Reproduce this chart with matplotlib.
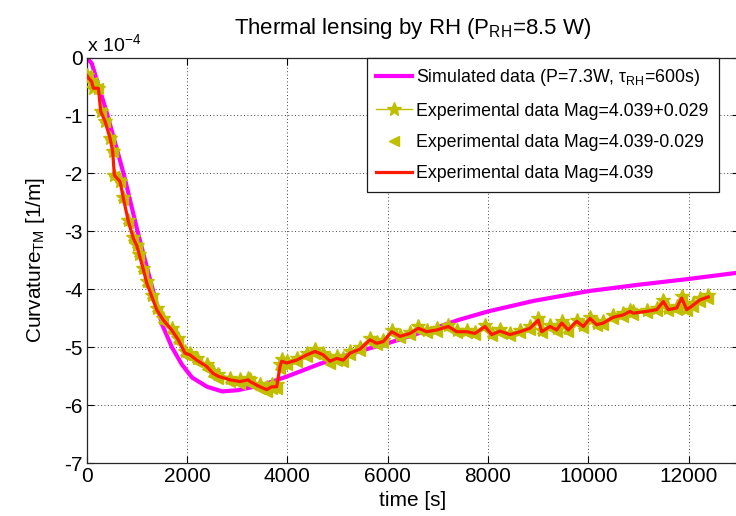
import matplotlib
matplotlib.use("Agg")
import matplotlib.pyplot as plt
from matplotlib.lines import Line2D

plt.rcParams['font.family'] = ['Liberation Sans', 'DejaVu Sans']
plt.rcParams['mathtext.fontset'] = 'custom'
plt.rcParams['mathtext.rm'] = 'Liberation Sans'
plt.rcParams['mathtext.it'] = 'Liberation Sans:italic'
plt.rcParams['axes.unicode_minus'] = False

# ---- data (curvature in units of 1e-4 1/m) ----
sim_t = [0, 100, 400, 750, 1000, 1200, 1500, 1700, 1900, 2100, 2400, 2700, 3000,
         3500, 4000, 4660, 5500, 6000, 7000, 7400, 8000, 8900, 10000, 11000, 12000, 13000]
sim_y = [0.0, -0.1, -0.95, -2.05, -2.95, -3.62, -4.6, -5.0, -5.3, -5.52, -5.68, -5.76, -5.74,
         -5.65, -5.5, -5.28, -5.05, -4.93, -4.65, -4.53, -4.38, -4.2, -4.03, -3.92, -3.82, -3.71]

exp_t = [0, 100, 133, 233, 280, 365, 465, 518, 551, 665,
         731, 831, 930, 1000, 1050, 1130, 1197, 1296, 1396, 1527,
         1694, 1826, 1960, 2060, 2192, 2392, 2520, 2623, 2856, 3056,
         3221, 3255, 3454, 3588, 3687, 3787, 3853, 3887, 3987, 4186,
         4385, 4551, 4716, 4850, 4983, 5115, 5248, 5448, 5647, 5780,
         5912, 6079, 6245, 6444, 6610, 6777, 6976, 7208, 7375, 7574,
         7740, 7939, 8072, 8238, 8437, 8637, 8836, 9002, 9069, 9235,
         9368, 9468, 9600, 9767, 9899, 10032, 10165, 10298, 10497, 10697,
         10829, 10895, 11161, 11361, 11494, 11594, 11760, 11860, 11960, 12092,
         12225, 12390]

exp_mag = [-0.31, -0.42, -0.53, -0.53, -0.93, -1.10, -1.39, -1.62, -2.03, -2.14,
           -2.43, -2.83, -3.12, -3.25, -3.41, -3.66, -3.89, -4.12, -4.35, -4.53,
           -4.70, -4.87, -5.10, -5.13, -5.22, -5.33, -5.45, -5.50, -5.56, -5.59,
           -5.56, -5.59, -5.68, -5.73, -5.68, -5.68, -5.33, -5.24, -5.27, -5.22,
           -5.13, -5.07, -5.13, -5.24, -5.19, -5.22, -5.10, -5.03, -4.87, -4.93,
           -4.90, -4.73, -4.81, -4.76, -4.67, -4.73, -4.70, -4.64, -4.73, -4.73,
           -4.76, -4.64, -4.78, -4.72, -4.78, -4.73, -4.67, -4.53, -4.73, -4.64,
           -4.70, -4.58, -4.70, -4.55, -4.64, -4.50, -4.61, -4.58, -4.48, -4.44,
           -4.38, -4.41, -4.38, -4.35, -4.21, -4.35, -4.32, -4.15, -4.35, -4.27,
           -4.18, -4.13]

exp_plus = [-0.31, -0.42, -0.53, -0.53, -0.92, -1.09, -1.38, -1.61, -2.02, -2.13,
            -2.41, -2.81, -3.10, -3.23, -3.39, -3.63, -3.86, -4.09, -4.32, -4.50,
            -4.67, -4.84, -5.06, -5.09, -5.18, -5.29, -5.41, -5.46, -5.52, -5.55,
            -5.52, -5.55, -5.64, -5.69, -5.64, -5.64, -5.29, -5.20, -5.23, -5.18,
            -5.09, -5.03, -5.09, -5.20, -5.15, -5.18, -5.06, -4.99, -4.84, -4.90,
            -4.87, -4.70, -4.78, -4.73, -4.64, -4.70, -4.67, -4.61, -4.70, -4.70,
            -4.73, -4.61, -4.75, -4.69, -4.75, -4.70, -4.64, -4.50, -4.70, -4.61,
            -4.67, -4.55, -4.67, -4.52, -4.61, -4.47, -4.58, -4.55, -4.45, -4.41,
            -4.35, -4.38, -4.35, -4.32, -4.18, -4.32, -4.29, -4.12, -4.32, -4.24,
            -4.15, -4.10]

exp_minus = [-0.31, -0.42, -0.53, -0.53, -0.94, -1.11, -1.40, -1.63, -2.04, -2.15,
             -2.45, -2.85, -3.14, -3.27, -3.43, -3.69, -3.92, -4.15, -4.38, -4.56,
             -4.73, -4.90, -5.14, -5.17, -5.26, -5.37, -5.49, -5.54, -5.60, -5.63,
             -5.60, -5.63, -5.72, -5.77, -5.72, -5.72, -5.37, -5.28, -5.31, -5.26,
             -5.17, -5.11, -5.17, -5.28, -5.23, -5.26, -5.14, -5.07, -4.90, -4.96,
             -4.93, -4.76, -4.84, -4.79, -4.70, -4.76, -4.73, -4.67, -4.76, -4.76,
             -4.79, -4.67, -4.81, -4.75, -4.81, -4.76, -4.70, -4.56, -4.76, -4.67,
             -4.73, -4.61, -4.73, -4.58, -4.67, -4.53, -4.64, -4.61, -4.51, -4.47,
             -4.41, -4.44, -4.41, -4.38, -4.24, -4.38, -4.35, -4.18, -4.38, -4.30,
             -4.21, -4.16]

x_ticks = [0, 2000, 4000, 6000, 8000, 10000, 12000]
y_ticks = [0, -1, -2, -3, -4, -5, -6, -7]

labels = ['Simulated data (P=7.3W, τ$_{\\mathrm{RH}}$=600s)',
          'Experimental data Mag=4.039+0.029',
          'Experimental data Mag=4.039-0.029',
          'Experimental data Mag=4.039']

MAGENTA = '#FF00FF'
OLIVE = '#BFBF00'
RED = '#FF1A00'

fig = plt.figure(figsize=(7.36, 5.16), dpi=100)
W, H = 736.0, 516.0
left, right, top, bottom = 86.7, 738.9, 57.5, 463.3
ax = fig.add_axes([left / W, 1 - bottom / H, (right - left) / W, (bottom - top) / H])

ax.plot(sim_t, sim_y, color=MAGENTA, lw=3.0, zorder=2)
ax.plot(exp_t, exp_plus, color=OLIVE, lw=1.0, marker='*', ms=10, mec=OLIVE, mfc=OLIVE, zorder=3)
ax.plot(exp_t, exp_minus, color=OLIVE, lw=0, marker='<', ms=7, mec=OLIVE, mfc=OLIVE, zorder=3)
ax.plot(exp_t, exp_mag, color=RED, lw=2.3, zorder=4)

ax.set_xlim(0, 13000)
ax.set_ylim(-7, 0)
ax.set_xticks(x_ticks)
ax.set_xticklabels([str(v) for v in x_ticks])
ax.set_yticks(y_ticks)
ax.set_yticklabels([str(v) for v in y_ticks])
ax.tick_params(direction='in', length=5, width=0.8, labelsize=15, top=True, right=True, pad=3)
ax.grid(True, linestyle=(0, (1, 2.5)), color='0.25', lw=0.7)
for s in ax.spines.values():
    s.set_linewidth(0.9)
    s.set_color('0.15')

ax.set_title('Thermal lensing by RH (P$_{\\mathrm{RH}}$=8.5 W)', fontsize=16, pad=17)
ax.set_xlabel('time [s]', fontsize=15, labelpad=3)
ax.set_ylabel('Curvature$_{\\mathrm{TM}}$ [1/m]', fontsize=15, labelpad=12)
ax.text(0.0, 1.005, 'x 10$^{\\mathrm{-4}}$', transform=ax.transAxes, fontsize=14,
        ha='left', va='bottom')

handles = [Line2D([], [], color=MAGENTA, lw=3.0),
           Line2D([], [], color=OLIVE, lw=1.0, marker='*', ms=10),
           Line2D([], [], color=OLIVE, lw=0, marker='<', ms=7),
           Line2D([], [], color=RED, lw=2.3)]
leg = ax.legend(handles, labels, loc='upper left', bbox_to_anchor=((366.7 - left) / (right - left), 1.0),
                fontsize=12.8, frameon=True, fancybox=False, framealpha=1, edgecolor='0.1',
                borderaxespad=0, borderpad=0.55, handlelength=2.0, handletextpad=0.25, labelspacing=0.8)
leg.get_frame().set_linewidth(0.9)

fig.savefig('out.png', dpi=100)
